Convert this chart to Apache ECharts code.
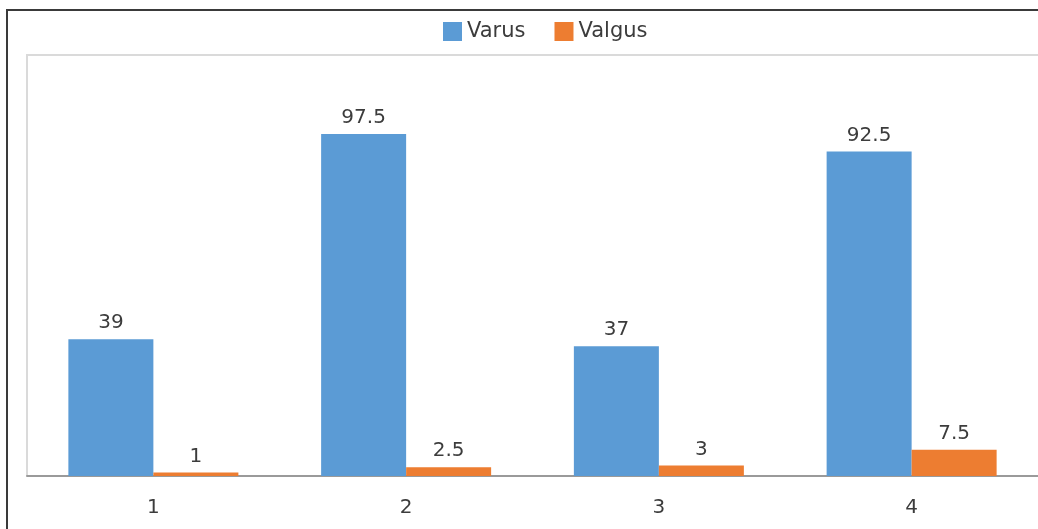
<!DOCTYPE html>
<html>
<head>
<meta charset="utf-8">
<title>Varus / Valgus</title>
<script src="https://cdn.jsdelivr.net/npm/echarts@6/dist/echarts.min.js"></script>
<style>
  html, body { margin: 0; padding: 0; background: #ffffff; }
  #chart { width: 1038px; height: 529px; }
</style>
</head>
<body>
<div id="chart"></div>
<script>
// Groups along the x axis
const categories = ['1', '2', '3', '4'];
// Percentages per group
const varus = [39, 97.5, 37, 92.5];
const valgus = [1, 2.5, 3, 7.5];

const textColor = '#3c3c3c';
const fontFamily = 'DejaVu Sans, Open Sans, sans-serif';

const chart = echarts.init(document.getElementById('chart'), null, { renderer: 'canvas' });

const labelStyle = {
  show: true,
  position: 'top',
  distance: 6,
  fontSize: 20,
  color: textColor,
  fontFamily: fontFamily
};

chart.setOption({
  animation: false,
  backgroundColor: '#ffffff',
  textStyle: { fontFamily: fontFamily },
  legend: {
    top: 16,
    left: 438,
    itemWidth: 19,
    itemHeight: 19,
    itemGap: 29,
    icon: 'rect',
    textStyle: { fontSize: 21, color: textColor, fontFamily: fontFamily },
    data: ['Varus', 'Valgus']
  },
  grid: {
    left: 27,
    top: 55,
    width: 1014,
    bottom: 53,
    show: false,
    containLabel: false
  },
  xAxis: {
    type: 'category',
    data: categories,
    axisTick: { show: false },
    axisLine: { lineStyle: { color: '#9a9a9a', width: 2 } },
    axisLabel: { margin: 22, fontSize: 20, color: textColor, fontFamily: fontFamily }
  },
  yAxis: {
    type: 'value',
    min: 0,
    max: 120,
    show: false,
    splitLine: { show: false }
  },
  series: [
    {
      name: 'Varus',
      type: 'bar',
      data: varus,
      barWidth: 85,
      barGap: '0%',
      itemStyle: { color: '#5b9bd5' },
      label: labelStyle
    },
    {
      name: 'Valgus',
      type: 'bar',
      data: valgus,
      barWidth: 85,
      barGap: '0%',
      itemStyle: { color: '#ed7d31' },
      label: labelStyle
    }
  ],
  graphic: [
    // outer frame edges
    { type: 'rect', shape: { x: 6, y: 9, width: 1032, height: 2 }, style: { fill: '#3a3a3a' }, silent: true },
    { type: 'rect', shape: { x: 6, y: 9, width: 2, height: 520 }, style: { fill: '#3a3a3a' }, silent: true },
    // plot area edges (top and left)
    { type: 'rect', shape: { x: 26, y: 54, width: 1012, height: 2 }, style: { fill: '#dadada' }, silent: true },
    { type: 'rect', shape: { x: 26, y: 54, width: 2, height: 422 }, style: { fill: '#dadada' }, silent: true }
  ]
});
</script>
</body>
</html>
